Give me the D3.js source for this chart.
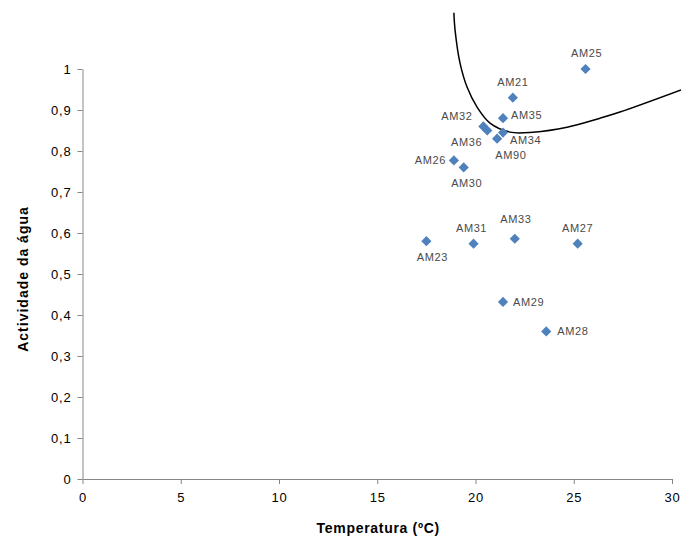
<!DOCTYPE html>
<html>
<head>
<meta charset="utf-8">
<script src="https://cdn.jsdelivr.net/npm/d3@7"></script>
<style>
  body { margin: 0; background: #fff; }
  svg { display: block; font-family: "Liberation Sans", Arial, sans-serif; }
  .axis path, .axis line { stroke: #868686; }
  .axis text { font-size: 13px; fill: #000; letter-spacing: 0.8px; }
</style>
</head>
<body>
<svg width="681" height="536"></svg>
<script>
  // DATA

  var names = ["AM25", "AM21", "AM35", "AM32", "AM90", "AM34", "AM36", "AM26", "AM30",
               "AM23", "AM31", "AM33", "AM27", "AM29", "AM28"];
  var temperatura = [25.6, 21.9, 21.4, 20.4, 20.6, 21.4, 21.1, 18.9, 19.4,
                     17.5, 19.9, 22.0, 25.2, 21.4, 23.6];
  var actividade = [1.0, 0.93, 0.88, 0.86, 0.85, 0.845, 0.83, 0.777, 0.76,
                    0.58, 0.574, 0.586, 0.574, 0.432, 0.36];

  // hand drawn boundary curve
  var curveX = [18.9, 18.96, 19.21, 19.57, 20.08, 20.74, 21.76, 22.93, 24.66, 26.34, 27.35, 30.46];
  var curveY = [1.137, 1.095, 1.015, 0.956, 0.907, 0.868, 0.846, 0.846, 0.858, 0.88, 0.895, 0.949];

  var xTicks = [0, 5, 10, 15, 20, 25, 30];
  var yTicks = [0, 0.1, 0.2, 0.3, 0.4, 0.5, 0.6, 0.7, 0.8, 0.9, 1];

  // label placement (offset from marker, px)
  var labelPos = {
    AM25: [1, -16, "middle"], AM21: [0, -16, "middle"], AM35: [8, -3, "start"],
    AM32: [-11, -10, "end"], AM90: [8, 25, "start"], AM34: [7, 8, "start"],
    AM36: [-15, 3, "end"], AM26: [-8, 0, "end"], AM30: [3, 16, "middle"],
    AM23: [6, 16, "middle"], AM31: [-2, -16, "middle"], AM33: [1, -20, "middle"],
    AM27: [0, -16, "middle"], AM29: [10, 0, "start"], AM28: [11, 0, "start"]
  };

  // SETUP

  var svg = d3.select("svg"),
    margin = { top: 69, right: 9, bottom: 57, left: 82.5 },
    width = 681 - margin.left - margin.right,
    height = 536 - margin.top - margin.bottom;

  var x = d3.scaleLinear().domain([0, 30]).range([0, width]),
    y = d3.scaleLinear().domain([0, 1]).range([height, 0]);

  var g = svg.append("g")
    .attr("transform", "translate(" + margin.left + "," + margin.top + ")");

  var fmt = function (d) { return String(d3.format("~g")(d)).replace(".", ","); };

  g.append("g")
    .attr("class", "axis axis--x")
    .attr("transform", "translate(0," + height + ")")
    .call(d3.axisBottom(x).tickValues(xTicks).tickSize(5).tickSizeOuter(0).tickPadding(9));

  g.append("g")
    .attr("class", "axis axis--y")
    .call(d3.axisLeft(y).tickValues(yTicks).tickFormat(fmt).tickSize(5).tickSizeOuter(0).tickPadding(6));

  g.append("text")
    .attr("transform", "translate(" + (23 - margin.left) + "," + (279 - margin.top) + ") rotate(-90)")
    .attr("text-anchor", "middle")
    .attr("dy", "0.35em")
    .style("font-size", "14px")
    .style("letter-spacing", "1px")
    .style("font-weight", "bold")
    .text("Actividade da água");

  g.append("text")
    .attr("x", width / 2 + 1)
    .attr("y", height + 54)
    .attr("text-anchor", "middle")
    .style("font-size", "14px")
    .style("letter-spacing", "0.7px")
    .style("font-weight", "bold")
    .text("Temperatura (ºC)");

  // DRAWING

  var points = names.map(function (n, i) {
    return { name: n, t: temperatura[i], a: actividade[i] };
  });

  var line = d3.line()
    .x(function (d) { return x(d[0]); })
    .y(function (d) { return y(d[1]); })
    .curve(d3.curveCatmullRom);

  g.append("path")
    .datum(curveX.map(function (v, i) { return [v, curveY[i]]; }))
    .attr("d", line)
    .attr("fill", "none")
    .attr("stroke", "#000")
    .attr("stroke-width", 1.5);

  var diamond = d3.symbol().type(d3.symbolSquare).size(52);

  g.selectAll(".pt")
    .data(points)
    .enter().append("path")
    .attr("class", "pt")
    .attr("d", diamond)
    .attr("fill", "#4f81bd")
    .attr("transform", function (d) {
      return "translate(" + x(d.t) + "," + y(d.a) + ") rotate(45)";
    });

  g.selectAll(".lbl")
    .data(points)
    .enter().append("text")
    .attr("class", "lbl")
    .attr("x", function (d) { return x(d.t) + labelPos[d.name][0]; })
    .attr("y", function (d) { return y(d.a) + labelPos[d.name][1]; })
    .attr("dy", "0.35em")
    .attr("text-anchor", function (d) { return labelPos[d.name][2]; })
    .style("font-size", "11px")
    .style("letter-spacing", "0.6px")
    .style("fill", "#4a4a4a")
    .text(function (d) { return d.name; });
</script>
</body>
</html>
